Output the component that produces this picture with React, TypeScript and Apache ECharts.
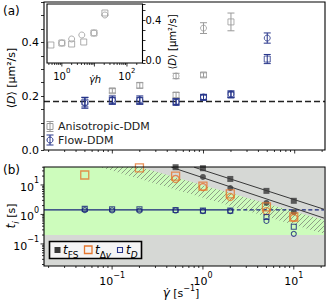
import React, { useEffect, useRef } from 'react';
import * as echarts from 'echarts';

// ---------------- Panel (a): <D> vs shear rate ----------------
const anisoSquareRate = [0.1, 0.2, 0.5, 1, 2];
const anisoSquareD = [0.22, 0.24, 0.204, 0.279, 0.476];
const anisoSquareErr = [0.008, 0.01, 0.01, 0.008, 0.033];
const anisoCircleRate = [0.5, 1];
const anisoCircleD = [0.275, 0.453];
const anisoCircleErr = [0.01, 0.02];
const flowRate = [0.05, 0.1, 0.2, 0.5, 1, 2, 5];
const flowCircleD = [0.175, 0.186, 0.186, 0.178, 0.197, 0.208, 0.416];
const flowCircleErr = [0.02, 0.015, 0.015, 0.012, 0.01, 0.012, 0.019];
const flowSquareD = [0.178, 0.183, 0.183, 0.18, 0.195, 0.205, 0.338];
const flowSquareErr = [0.018, 0.013, 0.013, 0.01, 0.009, 0.011, 0.017];
const equilibriumD = 0.18;

// inset: <D> vs gamma*h
const insetSquareGh = [0.46, 1, 2, 4.7, 9.7, 21];
const insetSquareD = [0.15, 0.17, 0.16, 0.18, 0.27, 0.47];
const insetCircleGh = [1, 2, 4.1, 9.7, 21];
const insetCircleD = [0.17, 0.21, 0.25, 0.27, 0.45];

// ---------------- Panel (b): time scales ----------------
const fsSquareRate = [0.5, 1, 2, 5, 10];
const fsSquareT = [40, 37, 16, 6.3, 2.9];
const fsCircleRate = [1, 2, 5, 10];
const fsCircleT = [18.7, 7.9, 2.45, 1.2];
const dvSquareRate = [0.05, 0.2, 0.5, 1, 2, 5, 10];
const dvSquareT = [21.8, 38, 20, 9.2, 5, 1.8, 0.82];
const dvCircleRate = [0.5, 1, 2, 5, 10];
const dvCircleT = [16, 8.5, 3.9, 1.3, 0.76];
const tdRate = [0.05, 0.1, 0.2, 0.5, 1, 2, 5, 10];
const tdSquareT = [1.54, 1.5, 1.5, 1.42, 1.35, 1.35, 0.82, 0.38];
const tdCircleT = [1.4, 1.38, 1.35, 1.36, 1.3, 1.3, 0.6, 0.22];
const tdLevel = 1.42;
const tdSolidEnd = 2;
const fsUpperFit = [[0.8, 40], [21.5, 1.5]];
const fsLowerFit = [[0.45, 40], [21.5, 0.75]];
const greenFloor = 0.2;
const greenCeilEdge = [[0.2, 40.7], [21.5, 0.65]];
const hatchLowerEdge = [[0.073, 40.7], [21.5, 0.22]];

// axis ranges
const X_MIN = 0.0178;
const X_MAX = 21.5;
const YA_MIN = 0;
const YA_MAX = 0.55;
const YB_MIN = 0.0178;
const YB_MAX = 40.7;
const IN_X_MIN = 0.35;
const IN_X_MAX = 300;
const IN_Y_MIN = -0.03;
const IN_Y_MAX = 0.56;

const FONT = 'DejaVu Sans';
const GRAY = '#9a9a9a';
const BLUE = '#26348a';
const NAVY = '#17237a';
const ORANGE = '#e5762d';
const DARK = '#383838';

function logTickPositions(min: number, max: number) {
  const out: number[][] = [];
  for (let e = Math.floor(Math.log10(min)); e <= Math.ceil(Math.log10(max)); e++) {
    for (let k = 1; k <= 9; k++) {
      const v = k * Math.pow(10, e);
      if (v > min * 1.0001 && v < max / 1.0001) out.push([v, k === 1 ? 1 : 0]);
    }
  }
  return out;
}

function sci(v: number, onlyEven = false) {
  const e = Math.log10(v);
  const r = Math.round(e);
  if (Math.abs(e - r) > 1e-6) return '';
  if (onlyEven && r % 2 !== 0) return '';
  return `{b|10}{s|${r < 0 ? '\u2212' + -r : r}}`;
}

const supRich = {
  b: { fontSize: 11, lineHeight: 16, verticalAlign: 'bottom', fontFamily: FONT, color: '#000' },
  s: { fontSize: 8, verticalAlign: 'top', fontFamily: FONT, color: '#000' },
};
const supRichSmall = {
  b: { fontSize: 10, lineHeight: 14, verticalAlign: 'bottom', fontFamily: FONT, color: '#000' },
  s: { fontSize: 7, verticalAlign: 'top', fontFamily: FONT, color: '#000' },
};

function tickSeries(xi: number, yi: number, data: number[][], dir: 'down' | 'left') {
  return {
    type: 'custom',
    xAxisIndex: xi,
    yAxisIndex: yi,
    silent: true,
    z: 20,
    data,
    renderItem: (_p: any, api: any) => {
      const p = api.coord([api.value(0), api.value(1)]);
      const len = api.value(2) ? 3.5 : 2;
      const shape =
        dir === 'down'
          ? { x1: p[0], y1: p[1], x2: p[0], y2: p[1] + len }
          : { x1: p[0], y1: p[1], x2: p[0] - len, y2: p[1] };
      return { type: 'line', shape, style: { stroke: '#000', lineWidth: 0.8 } };
    },
  };
}

function errorBars(xi: number, yi: number, xs: number[], ys: number[], errs: number[], color: string) {
  return {
    type: 'custom',
    xAxisIndex: xi,
    yAxisIndex: yi,
    silent: true,
    z: 3,
    data: xs.map((x, i) => [x, ys[i], errs[i]]),
    encode: { x: 0, y: 1 },
    renderItem: (_p: any, api: any) => {
      const x = api.value(0);
      const y = api.value(1);
      const e = api.value(2);
      const lo = api.coord([x, y - e]);
      const hi = api.coord([x, y + e]);
      const st = { stroke: color, lineWidth: 1 };
      return {
        type: 'group',
        children: [
          { type: 'line', shape: { x1: lo[0], y1: lo[1], x2: hi[0], y2: hi[1] }, style: st },
          { type: 'line', shape: { x1: lo[0] - 3.5, y1: lo[1], x2: lo[0] + 3.5, y2: lo[1] }, style: st },
          { type: 'line', shape: { x1: hi[0] - 3.5, y1: hi[1], x2: hi[0] + 3.5, y2: hi[1] }, style: st },
        ],
      };
    },
  };
}

function scatter(
  xi: number, yi: number, xs: number[], ys: number[], symbol: string, size: number,
  color: string, filled: boolean, bw = 1, z = 4,
) {
  return {
    type: 'scatter',
    xAxisIndex: xi,
    yAxisIndex: yi,
    symbol,
    symbolSize: size,
    z,
    silent: true,
    data: xs.map((x, i) => [x, ys[i]]),
    itemStyle: filled
      ? { color, borderWidth: 0 }
      : { color: 'rgba(0,0,0,0)', borderColor: color, borderWidth: bw },
  };
}

function polygonSeries(poly: number[][], fill: any, z: number) {
  return {
    type: 'custom',
    xAxisIndex: 1,
    yAxisIndex: 1,
    silent: true,
    z,
    data: poly,
    renderItem: (params: any, api: any) => {
      if (params.dataIndex !== 0) return null;
      const pts = poly.map((p) => api.coord(p));
      return { type: 'polygon', shape: { points: pts }, style: { fill, stroke: 'none' } };
    },
  };
}

const hatchSvg =
  '<svg xmlns="http://www.w3.org/2000/svg" width="5" height="5">' +
  '<path d="M-1,6 L6,-1 M-1,1 L1,-1 M4,6 L6,4" stroke="#7d8a79" stroke-width="0.8"/></svg>';
const hatchUrl = 'data:image/svg+xml;charset=utf-8,' + encodeURIComponent(hatchSvg);

function lineSeries(data: number[][], color: string, width: number, type: any, z = 3) {
  return {
    type: 'line',
    xAxisIndex: 1,
    yAxisIndex: 1,
    data,
    symbol: 'none',
    silent: true,
    z,
    lineStyle: { color, width, type },
  };
}

function buildOption() {
  const hideAxis = {
    axisLine: { show: false },
    axisTick: { show: false },
    splitLine: { show: false },
  };
  const greenPoly = [
    [X_MIN, greenFloor],
    [X_MIN, YB_MAX],
    greenCeilEdge[0],
    greenCeilEdge[1],
    [X_MAX, greenFloor],
  ];
  const hatchPoly = [hatchLowerEdge[0], greenCeilEdge[0], greenCeilEdge[1], hatchLowerEdge[1]];

  const txt = (x: number, y: number, text: string, extra: any = {}) => ({
    type: 'text',
    x,
    y,
    z: 30,
    style: {
      text,
      fontFamily: FONT,
      fontSize: 11,
      fill: '#000',
      align: 'left',
      verticalAlign: 'middle',
      ...extra,
    },
  });
  const italicRich = {
    i: { fontStyle: 'italic', fontFamily: FONT, fontSize: 12, fill: '#000', lineHeight: 18 },
    s: { fontFamily: FONT, fontSize: 9, fill: '#000', verticalAlign: 'bottom' },
    si: { fontFamily: FONT, fontSize: 9, fontStyle: 'italic', fill: '#000', verticalAlign: 'bottom' },
    p: { fontFamily: FONT, fontSize: 8, fill: '#000', verticalAlign: 'top' },
    n: { fontFamily: FONT, fontSize: 11, fill: '#000', lineHeight: 18 },
  };

  const frame = (x: number, y: number, w: number, h: number) => ({
    type: 'rect',
    z: 25,
    silent: true,
    shape: { x, y, width: w, height: h },
    style: { fill: 'none', stroke: '#000', lineWidth: 1.1 },
  });

  const ebLegend = (cx: number, cy: number, color: string) => [
    { type: 'line', z: 30, shape: { x1: cx, y1: cy - 5, x2: cx, y2: cy + 5 }, style: { stroke: color, lineWidth: 1 } },
    { type: 'line', z: 30, shape: { x1: cx - 3.5, y1: cy - 5, x2: cx + 3.5, y2: cy - 5 }, style: { stroke: color, lineWidth: 1 } },
    { type: 'line', z: 30, shape: { x1: cx - 3.5, y1: cy + 5, x2: cx + 3.5, y2: cy + 5 }, style: { stroke: color, lineWidth: 1 } },
  ];

  return {
    animation: false,
    textStyle: { fontFamily: FONT },
    grid: [
      { left: 44, top: 2, width: 281, height: 148, show: true, backgroundColor: '#fff', borderWidth: 0 },
      { left: 44, top: 167, width: 281, height: 99, show: true, backgroundColor: '#d6d8d5', borderWidth: 0 },
      { left: 47, top: 4, width: 95.5, height: 59, show: true, backgroundColor: '#fff', borderWidth: 0, z: 3 },
    ],
    xAxis: [
      { gridIndex: 0, type: 'log', logBase: 10, min: X_MIN, max: X_MAX, ...hideAxis, axisLabel: { show: false } },
      {
        gridIndex: 1, type: 'log', logBase: 10, min: X_MIN, max: X_MAX, ...hideAxis,
        axisLabel: { formatter: (v: number) => sci(v), rich: supRich, margin: 5, showMinLabel: true, showMaxLabel: true },
      },
      {
        gridIndex: 2, type: 'log', logBase: 10, min: IN_X_MIN, max: IN_X_MAX, ...hideAxis,
        axisLabel: { formatter: (v: number) => sci(v, true), rich: supRichSmall, margin: 4 },
      },
    ],
    yAxis: [
      {
        gridIndex: 0, type: 'value', min: YA_MIN, max: YA_MAX, minInterval: 0.05, maxInterval: 0.05,
        axisLine: { show: false }, splitLine: { show: false },
        axisTick: { show: true, length: 3, lineStyle: { color: '#000', width: 0.8 } },
        axisLabel: {
          fontSize: 11, color: '#000', margin: 5,
          formatter: (v: number) => (Math.round(v / 0.05) % 4 === 0 && v < 0.5 ? v.toFixed(1) : ''),
        },
      },
      {
        gridIndex: 1, type: 'log', logBase: 10, min: YB_MIN, max: YB_MAX, ...hideAxis,
        axisLabel: { formatter: (v: number) => sci(v), rich: supRich, margin: 5 },
      },
      {
        gridIndex: 2, type: 'value', position: 'right', min: IN_Y_MIN, max: IN_Y_MAX,
        minInterval: 0.1, maxInterval: 0.1,
        axisLine: { show: false }, splitLine: { show: false },
        axisTick: { show: true, length: 3, lineStyle: { color: '#000', width: 0.8 } },
        axisLabel: {
          fontSize: 10, color: '#000', margin: 3,
          formatter: (v: number) => (Math.abs(v) < 1e-9 || Math.abs(v - 0.4) < 1e-9 ? v.toFixed(1) : ''),
        },
      },
    ],
    graphic: [
      frame(44, 2, 281, 148),
      frame(44, 167, 281, 99),
      frame(47, 4, 95.5, 59),
      txt(3, 11, '(a)', { fontSize: 12 }),
      txt(3, 170, '(b)', { fontSize: 12 }),
      // panel (a) y label
      {
        type: 'text', x: 11, y: 78, rotation: Math.PI / 2, z: 30,
        style: { text: '\u27e8{i|D}\u27e9 [\u03bcm\u00b2/s]', fontFamily: FONT, fontSize: 11, fill: '#000', align: 'center', verticalAlign: 'middle', rich: { i: { fontStyle: 'italic', fontFamily: FONT, fontSize: 11, fill: '#000' } } },
      },
      // inset right label
      {
        type: 'text', x: 172, y: 42, rotation: Math.PI / 2, z: 30,
        style: { text: '\u27e8{i|D}\u27e9 [\u03bcm\u00b2/s]', fontFamily: FONT, fontSize: 10, fill: '#000', align: 'center', verticalAlign: 'middle', rich: { i: { fontStyle: 'italic', fontFamily: FONT, fontSize: 10, fill: '#000' } } },
      },
      // inset x label
      {
        type: 'text', x: 95, y: 79, z: 30,
        style: { text: '\u03b3\u0307h', fontFamily: FONT, fontSize: 10, fontStyle: 'italic', fill: '#000', align: 'center', verticalAlign: 'middle' },
      },
      // panel (b) y label
      {
        type: 'text', x: 11, y: 216, rotation: Math.PI / 2, z: 30,
        style: { text: '{i|t}{si|i}{n| [s]}', fontFamily: FONT, fontSize: 11, fill: '#000', align: 'center', verticalAlign: 'middle', rich: italicRich },
      },
      // panel (b) x label
      {
        type: 'text', x: 181, y: 293, z: 30,
        style: { text: '{i|\u03b3\u0307}{n| [s}{p|\u22121}{n|]}', fontFamily: FONT, fontSize: 11, fill: '#000', align: 'center', verticalAlign: 'middle', rich: italicRich },
      },
      // legend (a)
      ...ebLegend(50, 126.5, GRAY),
      { type: 'rect', z: 31, shape: { x: 47, y: 123.5, width: 6, height: 6 }, style: { fill: 'none', stroke: GRAY, lineWidth: 1 } },
      txt(58, 126.5, 'Anisotropic-DDM', { fill: '#222' }),
      ...ebLegend(50, 140, BLUE),
      { type: 'circle', z: 31, shape: { cx: 50, cy: 140, r: 3 }, style: { fill: 'none', stroke: BLUE, lineWidth: 1 } },
      txt(58, 140, 'Flow-DDM', { fill: '#222' }),
      // legend (b)
      { type: 'rect', z: 28, shape: { x: 49.5, y: 241.5, width: 92, height: 17 }, style: { fill: '#f4f4f4', stroke: '#000', lineWidth: 1.6 } },
      { type: 'rect', z: 30, shape: { x: 54.5, y: 247, width: 6, height: 6 }, style: { fill: DARK } },
      { type: 'text', x: 63, y: 250, z: 30, style: { text: '{i|t}{s|FS}', verticalAlign: 'middle', rich: italicRich } },
      { type: 'rect', z: 30, shape: { x: 84.5, y: 246, width: 7.5, height: 7.5 }, style: { fill: 'none', stroke: ORANGE, lineWidth: 1.3 } },
      { type: 'text', x: 95, y: 250, z: 30, style: { text: '{i|t}{s|\u0394}{si|v}', verticalAlign: 'middle', rich: italicRich } },
      { type: 'rect', z: 30, shape: { x: 117.5, y: 247.5, width: 5, height: 5 }, style: { fill: 'none', stroke: BLUE, lineWidth: 1.1 } },
      { type: 'text', x: 126, y: 250, z: 30, style: { text: '{i|t}{si|D}', verticalAlign: 'middle', rich: italicRich } },
    ],
    series: [
      // ticks
      tickSeries(0, 0, logTickPositions(X_MIN, X_MAX).map(([v, m]) => [v, YA_MIN, m]), 'down'),
      tickSeries(1, 1, logTickPositions(X_MIN, X_MAX).map(([v, m]) => [v, YB_MIN, m]), 'down'),
      tickSeries(1, 1, logTickPositions(YB_MIN, YB_MAX).map(([v, m]) => [X_MIN, v, m]), 'left'),
      tickSeries(2, 2, logTickPositions(IN_X_MIN, IN_X_MAX).map(([v, m]) => [v, IN_Y_MIN, m]), 'down'),
      // panel (a)
      {
        type: 'line', xAxisIndex: 0, yAxisIndex: 0, symbol: 'none', silent: true, z: 2,
        data: [[X_MIN, equilibriumD], [X_MAX, equilibriumD]],
        lineStyle: { color: '#222', width: 1.5, type: [6, 3] },
      },
      errorBars(0, 0, anisoSquareRate, anisoSquareD, anisoSquareErr, GRAY),
      errorBars(0, 0, anisoCircleRate, anisoCircleD, anisoCircleErr, GRAY),
      errorBars(0, 0, flowRate, flowCircleD, flowCircleErr, BLUE),
      errorBars(0, 0, flowRate, flowSquareD, flowSquareErr, BLUE),
      scatter(0, 0, anisoSquareRate, anisoSquareD, 'rect', 6, GRAY, false),
      scatter(0, 0, anisoCircleRate, anisoCircleD, 'circle', 6, GRAY, false),
      scatter(0, 0, flowRate, flowCircleD, 'circle', 6, BLUE, false),
      scatter(0, 0, flowRate, flowSquareD, 'rect', 6, BLUE, false),
      // inset
      scatter(2, 2, insetSquareGh, insetSquareD, 'rect', 6, GRAY, false, 1, 6),
      scatter(2, 2, insetCircleGh, insetCircleD, 'circle', 6, GRAY, false, 1, 6),
      // panel (b)
      polygonSeries(greenPoly, '#cdfcbc', 1),
      polygonSeries(hatchPoly, { image: hatchUrl, repeat: 'repeat', imageWidth: 5, imageHeight: 5 }, 1.5),
      lineSeries([[X_MIN, tdLevel], [tdSolidEnd, tdLevel]], NAVY, 1.2, 'solid'),
      lineSeries([[tdSolidEnd, tdLevel], [X_MAX, tdLevel]], NAVY, 1.2, [4, 2.5]),
      lineSeries(fsUpperFit, DARK, 1, 'solid'),
      lineSeries(fsLowerFit, DARK, 1, 'solid'),
      scatter(1, 1, fsSquareRate, fsSquareT, 'rect', 6, DARK, true),
      scatter(1, 1, fsCircleRate, fsCircleT, 'circle', 6, DARK, true),
      scatter(1, 1, dvSquareRate, dvSquareT, 'rect', 8, ORANGE, false, 1.3, 5),
      scatter(1, 1, dvCircleRate, dvCircleT, 'circle', 7, ORANGE, false, 1.3, 5),
      scatter(1, 1, tdRate, tdSquareT, 'rect', 5, NAVY, false, 1.1, 6),
      scatter(1, 1, tdRate, tdCircleT, 'circle', 5, NAVY, false, 1.1, 6),
    ],
  };
}

export default function App() {
  const ref = useRef<HTMLDivElement>(null);
  useEffect(() => {
    const chart = echarts.init(ref.current!, null, { renderer: 'svg' });
    chart.setOption(buildOption() as any);
    return () => chart.dispose();
  }, []);
  return (
    <div
      ref={ref}
      style={{ position: 'fixed', left: 0, top: 0, width: 327, height: 300, background: '#fff' }}
    />
  );
}
